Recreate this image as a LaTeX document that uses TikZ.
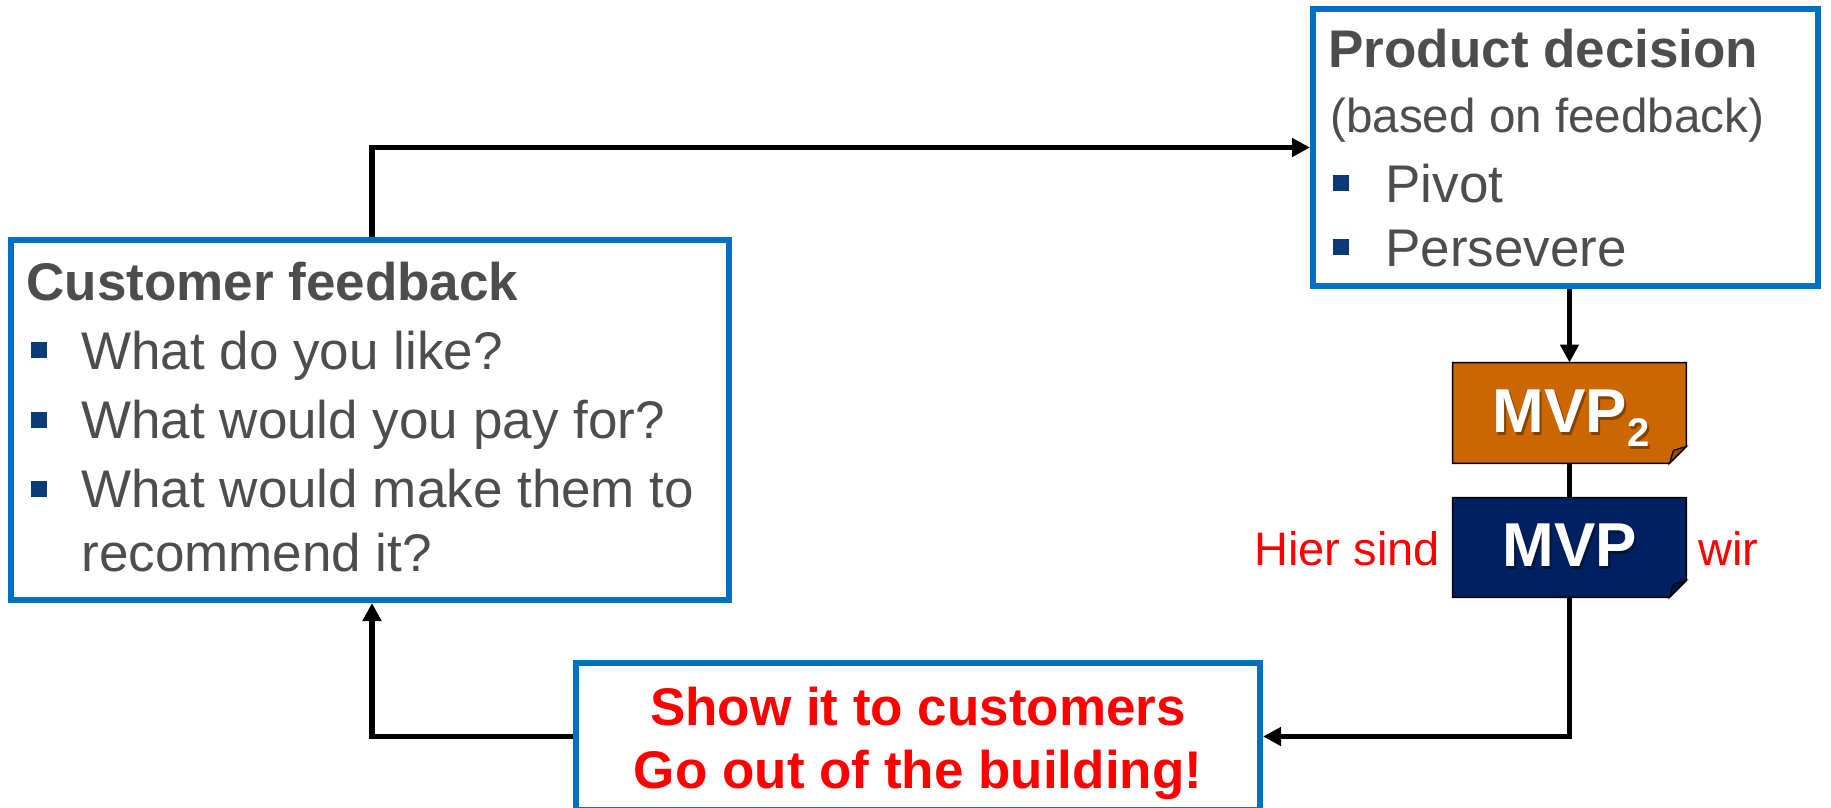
\documentclass[tikz,border=0pt]{standalone}
\usepackage{fontspec}
\setmainfont{Liberation Sans}
\usetikzlibrary{arrows.meta,calc}
\definecolor{frameblue}{HTML}{0070C0}
\definecolor{textgray}{HTML}{4D4D4D}
\definecolor{bulletblue}{HTML}{0B3A78}
\definecolor{mvporange}{HTML}{CC6600}
\definecolor{mvpnavy}{HTML}{002060}
\definecolor{alertred}{HTML}{FF0000}

\begin{document}
\begin{tikzpicture}[x=0.5pt,y=-0.5pt,
  panel/.style={draw=frameblue, line width=3pt, fill=white, rectangle, inner sep=0pt},
  conn/.style={line width=2.8pt},
  arr/.style={conn, -{Triangle[length=9pt,width=9pt]}},
  bodytext/.style={anchor=base west, inner sep=0pt, text=textgray,
    font=\fontsize{26.5pt}{30pt}\selectfont},
  subtext/.style={bodytext, font=\fontsize{23.8pt}{28pt}\selectfont},
  headtext/.style={bodytext, font=\fontsize{26.5pt}{30pt}\selectfont\bfseries},
  redtext/.style={anchor=base, inner sep=0pt, text=alertred,
    font=\fontsize{26.5pt}{30pt}\selectfont\bfseries},
  sidetext/.style={anchor=base west, inner sep=0pt, text=alertred,
    font=\fontsize{23.5pt}{28pt}\selectfont},
  bullet/.style={rectangle, fill=bulletblue, minimum size=8pt, inner sep=0pt},
  mvpslot/.style={rectangle, inner sep=0pt, minimum width=116.5pt, minimum height=50pt},
  mvplabel/.style={anchor=base, inner sep=0pt, text=white,
    font=\fontsize{31pt}{34pt}\selectfont\bfseries},
  mvpshadow/.style={mvplabel, text=black, opacity=0.35}
]
\useasboundingbox[fill=white] (0,0) rectangle (1831,808);

% the three framed panels
\node[panel, minimum width=359pt, minimum height=180pt] (cf) at (370,420) {};
\node[panel, minimum width=252.5pt, minimum height=138.5pt] (pd) at (1565.5,147.5) {};
\node[panel, minimum width=342pt, minimum height=73.5pt] (show) at (918,736.5) {};

% customer feedback panel
\node[headtext] (cfhead) at (26,300) {Customer feedback};
\node[bullet] (cfb1) at (39,349.5) {};
\node[bullet] (cfb2) at (39,419.5) {};
\node[bullet] (cfb3) at (39,489) {};
\node[bodytext] (cfq1) at (81,369) {What do you like?};
\node[bodytext] (cfq2) at (81,438) {What would you pay for?};
\node[bodytext] (cfq3) at (81,507) {What would make them to};
\node[bodytext] (cfq4) at (81,571) {recommend it?};

% product decision panel
\node[headtext] (pdhead) at (1328,68) {Product decision};
\node[subtext] (pdsub) at (1330,133) {(based on feedback)};
\node[bullet] (pdb1) at (1341,183) {};
\node[bullet] (pdb2) at (1341,247) {};
\node[bodytext] (pdo1) at (1385,202) {Pivot};
\node[bodytext] (pdo2) at (1385,266) {Persevere};

% show-it panel
\node[redtext] (show1) at (918,725) {Show it to customers};
\node[redtext] (show2) at (918,788) {Go out of the building!};

% MVP cards with a folded corner
\node[mvpslot] (mvp2) at (1569.5,413) {};
\node[mvpslot, minimum height=49.5pt] (mvp) at (1569.5,547.5) {};
\foreach \n/\c in {mvp2/mvporange, mvp/mvpnavy} {
  \draw[line width=0.8pt, fill=\c] (\n.north west) -- (\n.north east)
    -- ($(\n.south east)+(0,-17)$) -- ($(\n.south east)+(-17,0)$)
    -- (\n.south west) -- cycle;
  \draw[line width=0.6pt, fill=\c!75!black] ($(\n.south east)+(0,-17)$)
    -- ($(\n.south east)+(-13,-13)$) -- ($(\n.south east)+(-17,0)$) -- cycle;
}
\node[mvpshadow] at (1573,435) {MVP\raisebox{-7pt}{\fontsize{20pt}{20pt}\selectfont 2}};
\node[mvplabel] (mvp2text) at (1571,432) {MVP\raisebox{-7pt}{\fontsize{20pt}{20pt}\selectfont 2}};
\node[mvpshadow] at (1572,569) {MVP};
\node[mvplabel] (mvptext) at (1570,566) {MVP};

\node[sidetext] (here) at (1254,565) {Hier sind};
\node[sidetext] (we) at (1698,565) {wir};

% the feedback loop
\coordinate (k1) at (372,147);
\draw[arr] (cf.north -| k1) |- (pd.west);
\draw[arr] (pd.south -| mvp2.north) -- (mvp2.north);
\draw[conn] (mvp2.south) -- (mvp.north);
\draw[arr] (mvp.south) |- (show.east);
\draw[arr] (show.west) -| (cf.south -| k1);
\end{tikzpicture}
\end{document}
